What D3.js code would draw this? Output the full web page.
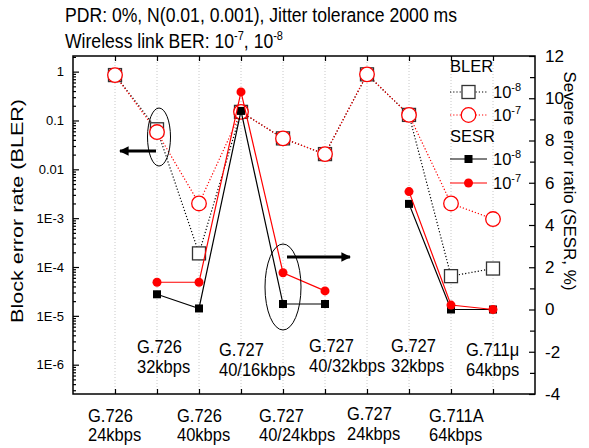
<!DOCTYPE html>
<html>
<head>
<meta charset="utf-8">
<script src="https://cdn.jsdelivr.net/npm/d3@7"></script>
<style>
  body { margin: 0; background: #fff; }
  text { font-family: "Liberation Sans", Arial, sans-serif; fill: #000; }
</style>
</head>
<body>
<div id="chart"></div>
<script>
// categories (x = 1..10)
var codecs = ["G.726", "G.726", "G.726", "G.727", "G.727", "G.727", "G.727", "G.727", "G.711A", "G.711\u03bc"];
var rates  = ["24kbps", "32kbps", "40kbps", "40/16kbps", "40/24kbps", "40/32kbps", "24kbps", "32kbps", "64kbps", "64kbps"];

// BLER (left, log axis)
var bler8 = [0.85, 0.066, 1.9e-4, 0.15, 0.043, 0.0205, 0.88, 0.13, 6.5e-5, 9.3e-5];
var bler7 = [0.85, 0.058, 2.0e-3, 0.15, 0.043, 0.0205, 0.88, 0.13, 2.0e-3, 9.6e-4];

// SESR % (right axis), null = no value
var sesr8 = [null, 0.72, 0.05, 9.4, 0.26, 0.26, null, 5.0, 0.0, 0.0];
var sesr7 = [null, 1.29, 1.29, 10.3, 1.74, 0.88, null, 5.58, 0.21, 0.0];

var leftTicks  = ["1E-6", "1E-5", "1E-4", "1E-3", "0.01", "0.1", "1"];
var rightTicks = [-4, -2, 0, 2, 4, 6, 8, 10, 12];

var margin = {top: 56, right: 54, bottom: 54, left: 73},
    width = 589 - margin.left - margin.right,
    height = 448 - margin.top - margin.bottom;

var svg = d3.select("#chart")
  .append("svg")
    .attr("width", 589)
    .attr("height", 448);

var g = svg.append("g")
    .attr("transform", "translate(" + margin.left + "," + margin.top + ")");

var x = d3.scaleLinear().domain([0, 11]).range([0, width]);
var yL = d3.scaleLog().domain([Math.pow(10, -6.6), Math.pow(10, 0.32)]).range([height, 0]);
var yR = d3.scaleLinear().domain([-4, 12]).range([height, 0]);

var cats = d3.range(1, 11);

// vertical dotted grid
g.selectAll(".grid")
  .data(cats)
  .enter().append("line")
    .attr("x1", d => x(d)).attr("x2", d => x(d))
    .attr("y1", 0).attr("y2", height)
    .attr("stroke", "#c8c8c8")
    .attr("stroke-width", 1)
    .attr("stroke-dasharray", "1,2");

// left axis: major + minor ticks, inward
var majors = d3.range(-6, 1).map(k => Math.pow(10, k));
var minors = [];
d3.range(-7, 1).forEach(k => {
  d3.range(2, 10).forEach(m => {
    var v = m * Math.pow(10, k);
    if (v >= yL.domain()[0] && v <= yL.domain()[1]) minors.push(v);
  });
});
g.append("g")
  .call(d3.axisLeft(yL).tickValues(minors).tickSize(-3).tickFormat(""))
  .call(a => a.select(".domain").remove());
g.append("g")
  .call(d3.axisLeft(yL).tickValues(majors).tickSizeInner(-6).tickSizeOuter(0).tickPadding(9)
    .tickFormat((d, i) => leftTicks[i]))
  .call(a => a.select(".domain").remove())
  .selectAll("text")
    .style("font-size", "13px")
    .style("font-family", "Liberation Sans, Arial, sans-serif");

// right axis
g.append("g")
  .attr("transform", "translate(" + width + ",0)")
  .call(d3.axisRight(yR).tickValues(d3.range(-3, 12, 2)).tickSize(-5).tickFormat(""))
  .call(a => a.select(".domain").remove());
g.append("g")
  .attr("transform", "translate(" + width + ",0)")
  .call(d3.axisRight(yR).tickValues(rightTicks).tickSizeInner(-6).tickSizeOuter(0).tickPadding(10)
    .tickFormat(d => d))
  .call(a => a.select(".domain").remove())
  .selectAll("text")
    .style("font-size", "17px")
    .style("font-family", "Liberation Sans, Arial, sans-serif");

// top / bottom ticks
g.append("g")
  .call(d3.axisTop(x).tickValues(cats).tickSize(-5).tickFormat(""))
  .call(a => a.select(".domain").remove());
g.append("g")
  .attr("transform", "translate(0," + height + ")")
  .call(d3.axisBottom(x).tickValues(cats).tickSize(-5).tickFormat(""))
  .call(a => a.select(".domain").remove());
g.selectAll(".tick line").attr("stroke-width", 1.2);

// frame
g.append("rect")
  .attr("width", width).attr("height", height)
  .attr("fill", "none").attr("stroke", "#000").attr("stroke-width", 1.5);

// BLER lines (dotted)
var lineL = d3.line().x((d, i) => x(i + 1)).y(d => yL(d));
g.append("path").datum(bler8)
  .attr("d", lineL).attr("fill", "none")
  .attr("stroke", "#000").attr("stroke-width", 1.2).attr("stroke-dasharray", "1.2,2");
g.append("path").datum(bler7)
  .attr("d", lineL).attr("fill", "none")
  .attr("stroke", "#ff0000").attr("stroke-width", 1.2).attr("stroke-dasharray", "1.2,2");

g.selectAll(".sq8")
  .data(bler8)
  .enter().append("rect")
    .attr("x", (d, i) => x(i + 1) - 6.5)
    .attr("y", d => yL(d) - 6.5)
    .attr("width", 13).attr("height", 13)
    .attr("fill", "#fff").attr("stroke", "#333").attr("stroke-width", 1.3);
g.selectAll(".ci7")
  .data(bler7)
  .enter().append("circle")
    .attr("cx", (d, i) => x(i + 1))
    .attr("cy", d => yL(d))
    .attr("r", 7.3)
    .attr("fill", "#fff").attr("stroke", "#ff0000").attr("stroke-width", 1.3);

// SESR lines (solid, with gaps)
var lineR = d3.line().defined(d => d != null).x((d, i) => x(i + 1)).y(d => yR(d));
g.append("path").datum(sesr8)
  .attr("d", lineR).attr("fill", "none").attr("stroke", "#000").attr("stroke-width", 1.2);
g.selectAll(".fs8")
  .data(sesr8.map((v, i) => ({v: v, i: i})).filter(d => d.v != null))
  .enter().append("rect")
    .attr("x", d => x(d.i + 1) - 4)
    .attr("y", d => yR(d.v) - 4)
    .attr("width", 8).attr("height", 8)
    .attr("fill", "#000");
g.append("path").datum(sesr7)
  .attr("d", lineR).attr("fill", "none").attr("stroke", "#ff0000").attr("stroke-width", 1.2);
g.selectAll(".fc7")
  .data(sesr7.map((v, i) => ({v: v, i: i})).filter(d => d.v != null))
  .enter().append("circle")
    .attr("cx", d => x(d.i + 1))
    .attr("cy", d => yR(d.v))
    .attr("r", 4.5)
    .attr("fill", "#ff0000");

// annotations: ellipses and arrows
svg.append("defs").append("marker")
  .attr("id", "head")
  .attr("viewBox", "0 0 10 10")
  .attr("refX", 9).attr("refY", 5)
  .attr("markerWidth", 5).attr("markerHeight", 3.2)
  .attr("markerUnits", "strokeWidth")
  .attr("orient", "auto")
  .append("path").attr("d", "M0,0 L10,5 L0,10 z").attr("fill", "#000");

g.append("ellipse")
  .attr("cx", x(2) + 2).attr("cy", yL(bler7[1]) + 5)
  .attr("rx", 11.5).attr("ry", 29)
  .attr("fill", "none").attr("stroke", "#000").attr("stroke-width", 1);
g.append("line")
  .attr("x1", x(2) - 1).attr("x2", x(2) - 37)
  .attr("y1", yL(bler7[1]) + 19).attr("y2", yL(bler7[1]) + 19)
  .attr("stroke", "#000").attr("stroke-width", 3).attr("marker-end", "url(#head)");

g.append("ellipse")
  .attr("cx", x(5)).attr("cy", yR(sesr8[4]) - 17)
  .attr("rx", 18).attr("ry", 43)
  .attr("fill", "none").attr("stroke", "#000").attr("stroke-width", 1);
g.append("line")
  .attr("x1", x(5) + 4).attr("x2", x(5) + 67)
  .attr("y1", yR(sesr8[4]) - 47).attr("y2", yR(sesr8[4]) - 47)
  .attr("stroke", "#000").attr("stroke-width", 3).attr("marker-end", "url(#head)");

// category labels (even inside plot, odd below)
var labelDx = [-27, -20, -22, -22, -24, -16, -20, -18, -22, -27];
var labelY1 = [421.5, 353, 421.5, 356, 421.5, 351.5, 420, 351.5, 421.5, 356];
cats.forEach((c, i) => {
  var lx = margin.left + x(c) + labelDx[i];
  var t = svg.append("text")
    .attr("transform", "translate(" + lx + "," + labelY1[i] + ") scale(1,1.06)")
    .style("font-size", "16.5px");
  t.append("tspan").text(codecs[i]);
  t.append("tspan")
    .attr("x", 0)
    .attr("dy", i % 2 ? 19 : 18.5)
    .text(rates[i]);
});

// title (slightly stretched vertically like the source)
svg.append("text").attr("transform", "translate(65,22) scale(1,1.13)")
  .style("font-size", "17.6px")
  .text("PDR: 0%, N(0.01, 0.001), Jitter tolerance 2000 ms");
var t2 = svg.append("text").attr("transform", "translate(65,48) scale(1,1.13)").style("font-size", "17.6px");
t2.append("tspan").text("Wireless link BER: 10");
t2.append("tspan").attr("dy", -7).style("font-size", "11px").text("-7");
t2.append("tspan").attr("dy", 7).text(", 10");
t2.append("tspan").attr("dy", -7).style("font-size", "11px").text("-8");

// axis titles
svg.append("text")
  .attr("transform", "translate(23,211) rotate(-90)")
  .attr("text-anchor", "middle")
  .attr("textLength", 224).attr("lengthAdjust", "spacingAndGlyphs")
  .style("font-size", "16px")
  .text("Block error rate (BLER)");
svg.append("text")
  .attr("transform", "translate(564,181) rotate(90)")
  .attr("text-anchor", "middle")
  .style("font-size", "17px")
  .text("Severe error ratio (SESR, %)");

// legend
var leg = svg.append("g");
leg.append("text").attr("x", 450).attr("y", 72).style("font-size", "16.5px").text("BLER");
leg.append("text").attr("x", 450).attr("y", 142).style("font-size", "16.5px").text("SESR");
var legRows = [
  {y: 92,  color: "#000", dash: "1.2,2", mark: "osq", exp: "-8"},
  {y: 115, color: "#ff0000", dash: "1.2,2", mark: "oci", exp: "-7"},
  {y: 159, color: "#000", dash: null, mark: "fsq", exp: "-8"},
  {y: 183, color: "#ff0000", dash: null, mark: "fci", exp: "-7"}
];
legRows.forEach(r => {
  leg.append("line")
    .attr("x1", 450).attr("x2", 487).attr("y1", r.y).attr("y2", r.y)
    .attr("stroke", r.color).attr("stroke-width", 1.2)
    .attr("stroke-dasharray", r.dash);
  if (r.mark == "osq") leg.append("rect").attr("x", 462).attr("y", r.y - 6.5).attr("width", 13).attr("height", 13)
    .attr("fill", "#fff").attr("stroke", "#333").attr("stroke-width", 1.3);
  if (r.mark == "oci") leg.append("circle").attr("cx", 468.5).attr("cy", r.y).attr("r", 7.3)
    .attr("fill", "#fff").attr("stroke", "#ff0000").attr("stroke-width", 1.3);
  if (r.mark == "fsq") leg.append("rect").attr("x", 464.5).attr("y", r.y - 4).attr("width", 8).attr("height", 8)
    .attr("fill", "#000");
  if (r.mark == "fci") leg.append("circle").attr("cx", 468.5).attr("cy", r.y).attr("r", 4.5)
    .attr("fill", "#ff0000");
  var lt = leg.append("text").attr("x", 493).attr("y", r.y + 6).style("font-size", "16.5px");
  lt.append("tspan").text("10");
  lt.append("tspan").attr("dy", -7).style("font-size", "11px").text(r.exp);
});
</script>
</body>
</html>
